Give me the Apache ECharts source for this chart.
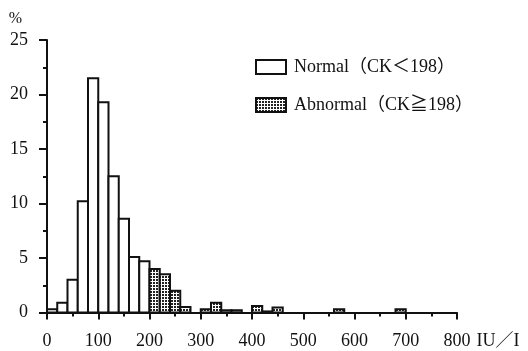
<!DOCTYPE html>
<html>
<head>
<meta charset="utf-8">
<script src="https://cdn.jsdelivr.net/npm/echarts@6/dist/echarts.min.js"></script>
<style>
  html, body { margin: 0; padding: 0; background: #fff; }
  #chart { width: 528px; height: 351px; }
</style>
</head>
<body>
<div id="chart"></div>
<script>
// Histogram of CK activity (IU/l), 20 IU/l bins, percent of subjects
const binWidth = 20;
// bins 0-20 ... 180-200
const normalPct = [0.3, 0.9, 3.0, 10.2, 21.5, 19.3, 12.5, 8.6, 5.1, 4.7];
// bins 200-220 ... 780-800
const abnormalPct = [
  4.0, 3.5, 2.0, 0.5, 0, 0.3, 0.9, 0.2, 0.2, 0,
  0.6, 0.1, 0.45, 0, 0, 0, 0, 0, 0.3, 0,
  0, 0, 0, 0, 0.3, 0, 0, 0, 0, 0
];
const abnormalStart = 200;
const xTicks = [0, 100, 200, 300, 400, 500, 600, 700, 800];
const yTicks = [0, 5, 10, 15, 20, 25];

const serif = '"Liberation Serif", "Noto Sans CJK JP", serif';

// dotted fill for the abnormal bins
function dotPattern() {
  const c = document.createElement('canvas');
  c.width = 3; c.height = 3;
  const g = c.getContext('2d');
  g.fillStyle = '#fff';
  g.fillRect(0, 0, 3, 3);
  g.fillStyle = '#222';
  g.fillRect(0, 0, 2, 2);
  return { image: c, repeat: 'repeat' };
}
const dots = dotPattern();

function toBins(values, start) {
  const out = [];
  values.forEach((v, i) => {
    if (v > 0) {
      const x0 = start + i * binWidth;
      out.push([x0, x0 + binWidth, v]);
    }
  });
  return out;
}

function barRenderer(fill) {
  return function (params, api) {
    const top = api.coord([api.value(0), api.value(2)]);
    const bottom = api.coord([api.value(1), 0]);
    return {
      type: 'rect',
      shape: { x: top[0], y: top[1], width: bottom[0] - top[0], height: bottom[1] - top[1] },
      style: { fill: fill, stroke: '#111', lineWidth: 2 }
    };
  };
}

const chart = echarts.init(document.getElementById('chart'), null, { renderer: 'canvas' });

chart.setOption({
  animation: false,
  backgroundColor: '#fff',
  grid: { left: 47, right: 71, top: 40, bottom: 38.5 },
  legend: {
    orient: 'vertical',
    left: 255,
    top: 58,
    padding: 0,
    itemWidth: 30,
    itemHeight: 14,
    itemGap: 20,
    icon: 'rect',
    textStyle: { fontFamily: serif, fontSize: 18, color: '#111', padding: [0, 0, 0, 3] },
    data: [
      { name: 'Normal（CK＜198）', itemStyle: { color: '#fff', borderColor: '#111', borderWidth: 2 } },
      { name: 'Abnormal（CK≧198）', itemStyle: { color: dots, borderColor: '#111', borderWidth: 2 } }
    ]
  },
  xAxis: {
    type: 'value',
    min: xTicks[0],
    max: xTicks[xTicks.length - 1],
    interval: 100,
    name: 'IU／I',
    nameLocation: 'end',
    nameGap: 6,
    nameTextStyle: { fontFamily: serif, fontSize: 18, color: '#111', verticalAlign: 'top', padding: [20, 0, 0, 0] },
    axisLine: { show: true, lineStyle: { color: '#111', width: 2 } },
    axisTick: { show: true, inside: false, length: 7, lineStyle: { color: '#111', width: 2 } },
    minorTick: { show: true, splitNumber: 2, length: 4, lineStyle: { color: '#111', width: 2 } },
    splitLine: { show: false },
    axisLabel: { margin: 20, fontFamily: serif, fontSize: 18, color: '#111' }
  },
  yAxis: {
    type: 'value',
    min: yTicks[0],
    max: yTicks[yTicks.length - 1],
    interval: 5,
    name: '%',
    nameLocation: 'end',
    nameGap: 13,
    nameTextStyle: { fontFamily: serif, fontSize: 16, color: '#111', align: 'right', padding: [0, 25, 0, 0] },
    axisLine: { show: true, lineStyle: { color: '#111', width: 2 } },
    axisTick: { show: true, inside: false, length: 8, lineStyle: { color: '#111', width: 2 } },
    minorTick: { show: true, splitNumber: 2, length: 4, lineStyle: { color: '#111', width: 2 } },
    splitLine: { show: false },
    axisLabel: { margin: 19, fontFamily: serif, fontSize: 18, color: '#111' }
  },
  series: [
    {
      name: 'Normal（CK＜198）',
      type: 'custom',
      itemStyle: { color: '#fff' },
      encode: { x: [0, 1], y: 2 },
      data: toBins(normalPct, 0),
      renderItem: barRenderer('#fff')
    },
    {
      name: 'Abnormal（CK≧198）',
      type: 'custom',
      itemStyle: { color: dots },
      encode: { x: [0, 1], y: 2 },
      data: toBins(abnormalPct, abnormalStart),
      renderItem: barRenderer(dots)
    }
  ]
});
</script>
</body>
</html>
